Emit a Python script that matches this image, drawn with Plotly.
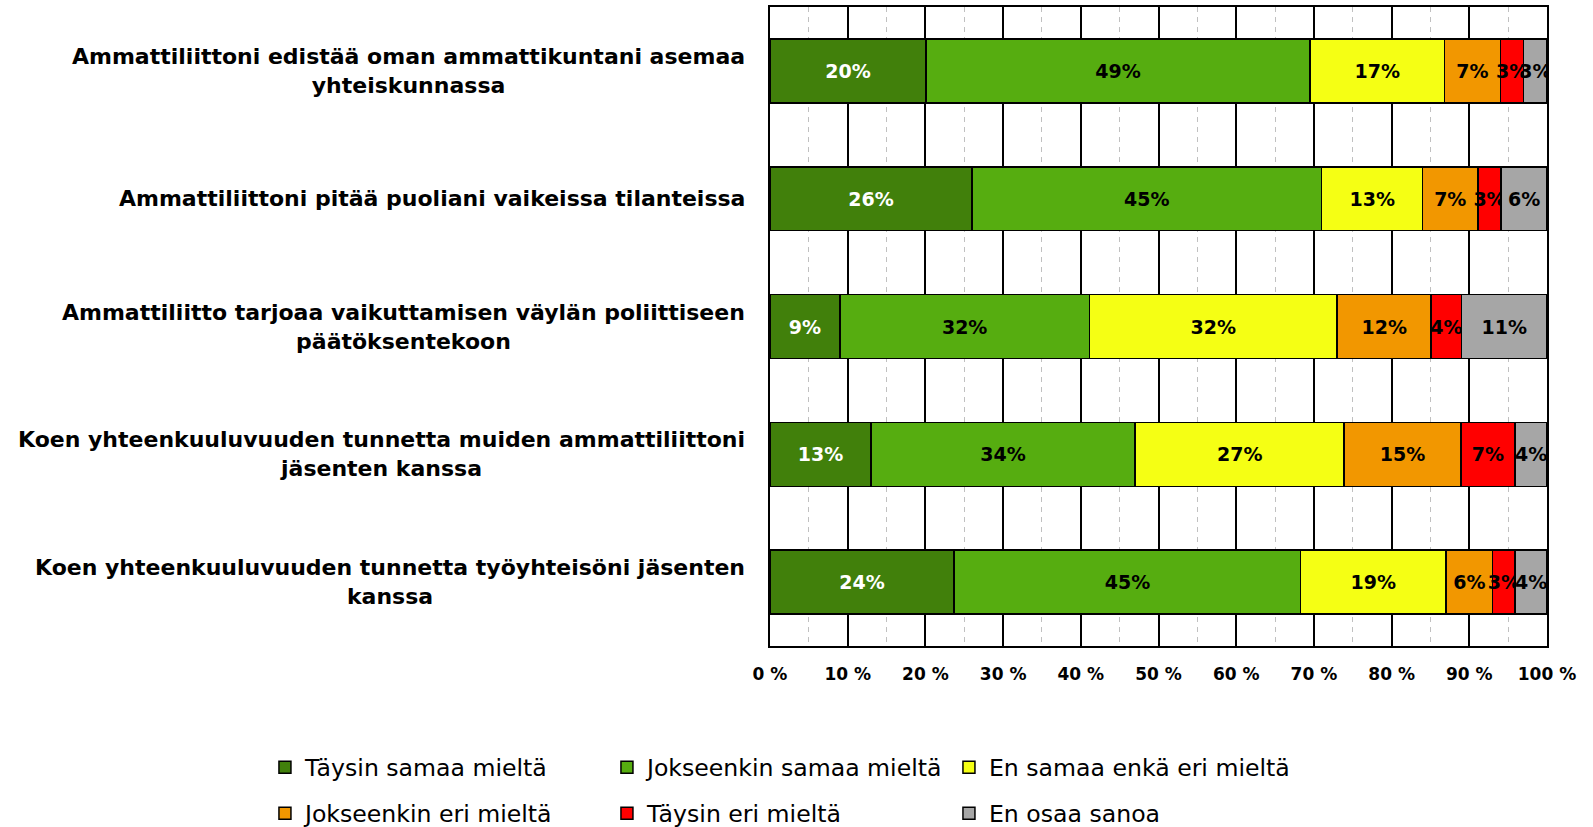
import plotly.graph_objects as go

categories = [
    "Ammattiliittoni edistää oman ammattikuntani asemaa<br>yhteiskunnassa",
    "Ammattiliittoni pitää puoliani vaikeissa tilanteissa",
    "Ammattiliitto tarjoaa vaikuttamisen väylän poliittiseen<br>päätöksentekoon",
    "Koen yhteenkuuluvuuden tunnetta muiden ammattiliittoni<br>jäsenten kanssa",
    "Koen yhteenkuuluvuuden tunnetta työyhteisöni jäsenten<br>kanssa",
]

series_names = [
    "Täysin samaa mieltä",
    "Jokseenkin samaa mieltä",
    "En samaa enkä eri mieltä",
    "Jokseenkin eri mieltä",
    "Täysin eri mieltä",
    "En osaa sanoa",
]

taysin_samaa = [20.1, 26.0, 9.0, 13.0, 23.7]
jokseenkin_samaa = [49.4, 45.0, 32.1, 34.0, 44.6]
en_samaa_enka_eri = [17.3, 13.0, 31.9, 26.9, 18.7]
jokseenkin_eri = [7.2, 7.1, 12.1, 15.0, 6.0]
taysin_eri = [3.0, 3.0, 3.9, 7.0, 2.9]
en_osaa = [3.0, 5.9, 11.0, 4.1, 4.1]

series_values = [taysin_samaa, jokseenkin_samaa, en_samaa_enka_eri,
                 jokseenkin_eri, taysin_eri, en_osaa]
colors = ["#41800B", "#56AD10", "#F5FF14", "#F29700", "#FF0000", "#A6A6A6"]
text_colors = ["white", "black", "black", "black", "black", "black"]

tick_vals = list(range(0, 101, 10))
tick_text = [f"{v} %" for v in tick_vals]

FONT = "DejaVu Sans"

fig = go.Figure()
for i, (name, vals) in enumerate(zip(series_names, series_values)):
    fig.add_trace(go.Bar(
        y=categories, x=vals, name=name, orientation="h",
        marker=dict(color=colors[i], line=dict(color="black", width=1.5)),
        texttemplate="<b>%{x:.0f}%</b>", textposition="inside",
        insidetextanchor="middle", constraintext="none", textangle=0,
        textfont=dict(family=FONT, size=19, color=text_colors[i]),
        hoverinfo="skip",
        legend="legend" if i < 3 else "legend2",
    ))

for cat in categories:
    fig.add_annotation(
        x=0, xref="paper", y=cat, yref="y", text="<b>" + cat + "</b>",
        xanchor="right", yanchor="middle", align="center", xshift=-23,
        showarrow=False, font=dict(family=FONT, size=22, color="black"),
    )

legend_common = dict(
    orientation="h", xanchor="left", yanchor="middle", x=-0.6500,
    entrywidth=297, entrywidthmode="pixels",
    font=dict(family=FONT, size=23.6, color="black"),
    bgcolor="rgba(0,0,0,0)", borderwidth=0, traceorder="normal",
)

fig.update_layout(
    width=1593, height=827,
    margin=dict(l=770, r=46, t=7, b=181, autoexpand=False),
    barmode="stack", bargap=0.5,
    plot_bgcolor="white", paper_bgcolor="white",
    showlegend=True,
    legend=dict(y=-0.19, **legend_common),
    legend2=dict(y=-0.262, **legend_common),
    xaxis=dict(
        range=[0, 100], tickvals=tick_vals, ticktext=tick_text,
        tickfont=dict(family=FONT, size=17, color="black", weight="bold"),
        showgrid=True, gridcolor="black", gridwidth=1.5,
        minor=dict(dtick=5, showgrid=True, gridcolor="#C0C0C0",
                   gridwidth=1, griddash="5px,5px"),
        showline=True, linecolor="black", linewidth=1.5, mirror=True,
        zeroline=False, ticks="", ticklabelstandoff=12, fixedrange=True,
    ),
    yaxis=dict(
        autorange="reversed", showticklabels=False, showgrid=False,
        showline=True, linecolor="black", linewidth=1.5, mirror=True,
        ticks="", zeroline=False, fixedrange=True,
    ),
)

fig.write_html(
    "out.html",
    config={"displayModeBar": False},
    post_script="document.body.style.margin='0';document.body.style.overflow='hidden';",
)
